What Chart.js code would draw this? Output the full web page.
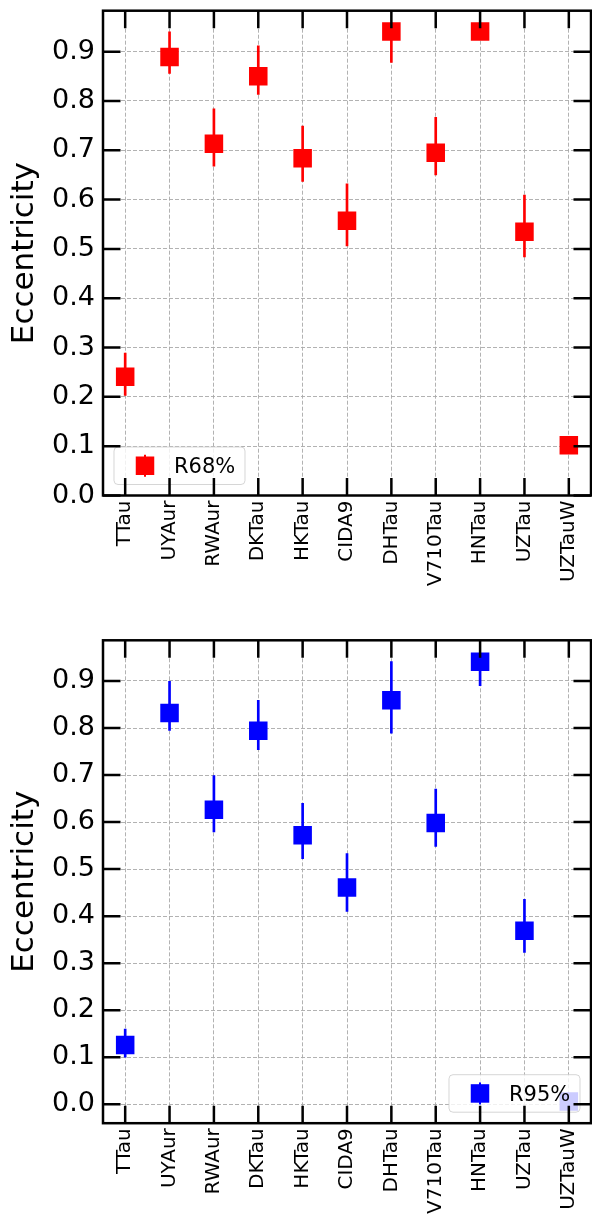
<!DOCTYPE html>
<html>
<head>
<meta charset="utf-8">
<script src="https://cdn.jsdelivr.net/npm/chart.js@4/dist/chart.umd.min.js"></script>
<style>
  html, body { margin: 0; padding: 0; background: #fff; }
  .panel { position: absolute; left: 0; width: 592px; height: 608px; }
  canvas { display: block; }
</style>
</head>
<body>
<div class="panel" style="top:0"><canvas id="c68" width="592" height="608"></canvas></div>
<div class="panel" style="top:608px"><canvas id="c95" width="592" height="608"></canvas></div>
<script>
// Systems on the x axis
const stars = ['TTau', 'UYAur', 'RWAur', 'DKTau', 'HKTau', 'CIDA9', 'DHTau', 'V710Tau', 'HNTau', 'UZTau', 'UZTauW'];
// Eccentricity tick values
const yTicks = [0.0, 0.1, 0.2, 0.3, 0.4, 0.5, 0.6, 0.7, 0.8, 0.9];

// R68% solution: best value with lower / upper bounds
const ecc68 = [0.241, 0.889, 0.713, 0.850, 0.684, 0.557, 0.941, 0.695, 0.941, 0.535, 0.102];
const lo68  = [0.203, 0.856, 0.668, 0.813, 0.637, 0.506, 0.878, 0.650, 0.925, 0.484, 0.094];
const hi68  = [0.289, 0.940, 0.784, 0.912, 0.749, 0.632, 0.955, 0.767, 0.955, 0.609, 0.110];

// R95% solution: best value with lower / upper bounds
const ecc95 = [0.126, 0.832, 0.626, 0.794, 0.572, 0.461, 0.859, 0.598, 0.941, 0.369, 0.006];
const lo95  = [0.100, 0.795, 0.579, 0.754, 0.522, 0.410, 0.789, 0.548, 0.890, 0.323, 0.000];
const hi95  = [0.160, 0.899, 0.699, 0.859, 0.640, 0.533, 0.941, 0.670, 0.955, 0.436, 0.014];

Chart.defaults.font.family = "'DejaVu Sans', sans-serif";
Chart.defaults.color = '#000';

const GRID = 'rgba(170,170,170,0.9)';
const TICK_LEN = 17.5;

// Box frame with inward ticks on all four sides
const framePlugin = {
  id: 'frame',
  afterDraw(chart) {
    const { ctx, chartArea: a, scales: { x, y } } = chart;
    ctx.save();
    ctx.strokeStyle = '#000';
    ctx.lineWidth = 2.5;
    ctx.lineCap = 'butt';
    ctx.beginPath();
    yTicks.forEach(v => {
      const py = y.getPixelForValue(v);
      ctx.moveTo(a.left, py); ctx.lineTo(a.left + TICK_LEN, py);
      ctx.moveTo(a.right, py); ctx.lineTo(a.right - TICK_LEN, py);
    });
    stars.forEach((s, i) => {
      const px = x.getPixelForValue(i);
      ctx.moveTo(px, a.bottom); ctx.lineTo(px, a.bottom - TICK_LEN);
      ctx.moveTo(px, a.top); ctx.lineTo(px, a.top + TICK_LEN);
    });
    ctx.stroke();
    ctx.strokeRect(a.left, a.top, a.right - a.left, a.bottom - a.top);
    ctx.restore();
  }
};

// Framed legend box inside the plot corner
const boxLegendPlugin = {
  id: 'boxLegend',
  afterDatasetsDraw(chart, args, opts) {
    const { ctx, chartArea: a } = chart;
    const w = 131, h = 37.5, m = 11;
    const left = opts.side === 'left' ? a.left + m : a.right - m - w;
    const top = a.bottom - m - h;
    const ds = chart.data.datasets[1];
    ctx.save();
    ctx.beginPath();
    if (ctx.roundRect) ctx.roundRect(left, top, w, h, 4); else ctx.rect(left, top, w, h);
    ctx.fillStyle = 'rgba(255,255,255,0.8)';
    ctx.fill();
    ctx.strokeStyle = 'rgba(204,204,204,0.8)';
    ctx.lineWidth = 1;
    ctx.stroke();
    const cx = left + 31, cy = top + h / 2;
    ctx.fillStyle = ds.backgroundColor;
    ctx.fillRect(cx - 1, cy - 11, 2, 22);
    ctx.fillRect(cx - 9.25, cy - 9.25, 18.5, 18.5);
    ctx.fillStyle = '#000';
    ctx.font = "21px 'DejaVu Sans', sans-serif";
    ctx.textBaseline = 'alphabetic';
    ctx.textAlign = 'left';
    ctx.fillText(ds.label, left + 60, cy + 7.5);
    ctx.restore();
  }
};

// Scale boxes keep fixed sizes and ask for no extra edge room
function fixScale(s, size) {
  if (s.isHorizontal()) s.height = size; else s.width = size;
  s.paddingTop = 0; s.paddingBottom = 0; s.paddingLeft = 0; s.paddingRight = 0;
}

function makePanel(id, cfg) {
  return new Chart(document.getElementById(id), {
    data: {
      labels: stars,
      datasets: [
        {
          type: 'bar',
          label: cfg.label + ' range',
          data: cfg.lo.map((l, i) => [l, cfg.hi[i]]),
          backgroundColor: cfg.color,
          borderWidth: 0,
          barThickness: 2,
          order: 2
        },
        {
          type: 'line',
          label: cfg.label,
          data: cfg.values,
          showLine: false,
          pointStyle: 'rect',
          pointRadius: 13.1,
          pointHoverRadius: 13.1,
          pointBorderWidth: 0,
          backgroundColor: cfg.color,
          borderColor: cfg.color,
          order: 1
        }
      ]
    },
    options: {
      responsive: false,
      animation: false,
      events: [],
      layout: { autoPadding: false, padding: { top: cfg.padTop, right: 1, left: 0, bottom: 0 } },
      plugins: {
        legend: { display: false },
        tooltip: { enabled: false },
        boxLegend: { side: cfg.legendSide }
      },
      scales: {
        x: {
          type: 'category',
          offset: true,
          grid: { offset: false, color: GRID, lineWidth: 1, drawTicks: false },
          border: { display: false, dash: [4, 2] },
          ticks: {
            font: { size: 20 },
            color: '#000',
            padding: 5,
            minRotation: 90,
            maxRotation: 90,
            autoSkip: false
          },
          afterFit(s) { fixScale(s, cfg.xHeight); }
        },
        y: {
          type: 'linear',
          min: cfg.yMin,
          max: cfg.yMax,
          afterBuildTicks(s) { s.ticks = yTicks.map(v => ({ value: v })); },
          grid: { color: GRID, lineWidth: 1, drawTicks: false },
          border: { display: false, dash: [4, 2] },
          ticks: {
            font: { size: 27 },
            color: '#000',
            padding: 8,
            callback: v => Number(v).toFixed(1)
          },
          title: {
            display: true,
            text: 'Eccentricity',
            font: { size: 31 },
            color: '#000',
            padding: { top: 6, bottom: 0 }
          },
          afterFit(s) { fixScale(s, 103); }
        }
      }
    },
    plugins: [framePlugin, boxLegendPlugin]
  });
}

makePanel('c68', {
  label: 'R68%', color: '#ff0000',
  values: ecc68, lo: lo68, hi: hi68,
  yMin: 0, yMax: 0.983,
  padTop: 10.7, xHeight: 112.5, legendSide: 'left'
});

makePanel('c95', {
  label: 'R95%', color: '#0000ff',
  values: ecc95, lo: lo95, hi: hi95,
  yMin: -0.0402, yMax: 0.9865,
  padTop: 32.3, xHeight: 92.8, legendSide: 'right'
});
</script>
</body>
</html>
